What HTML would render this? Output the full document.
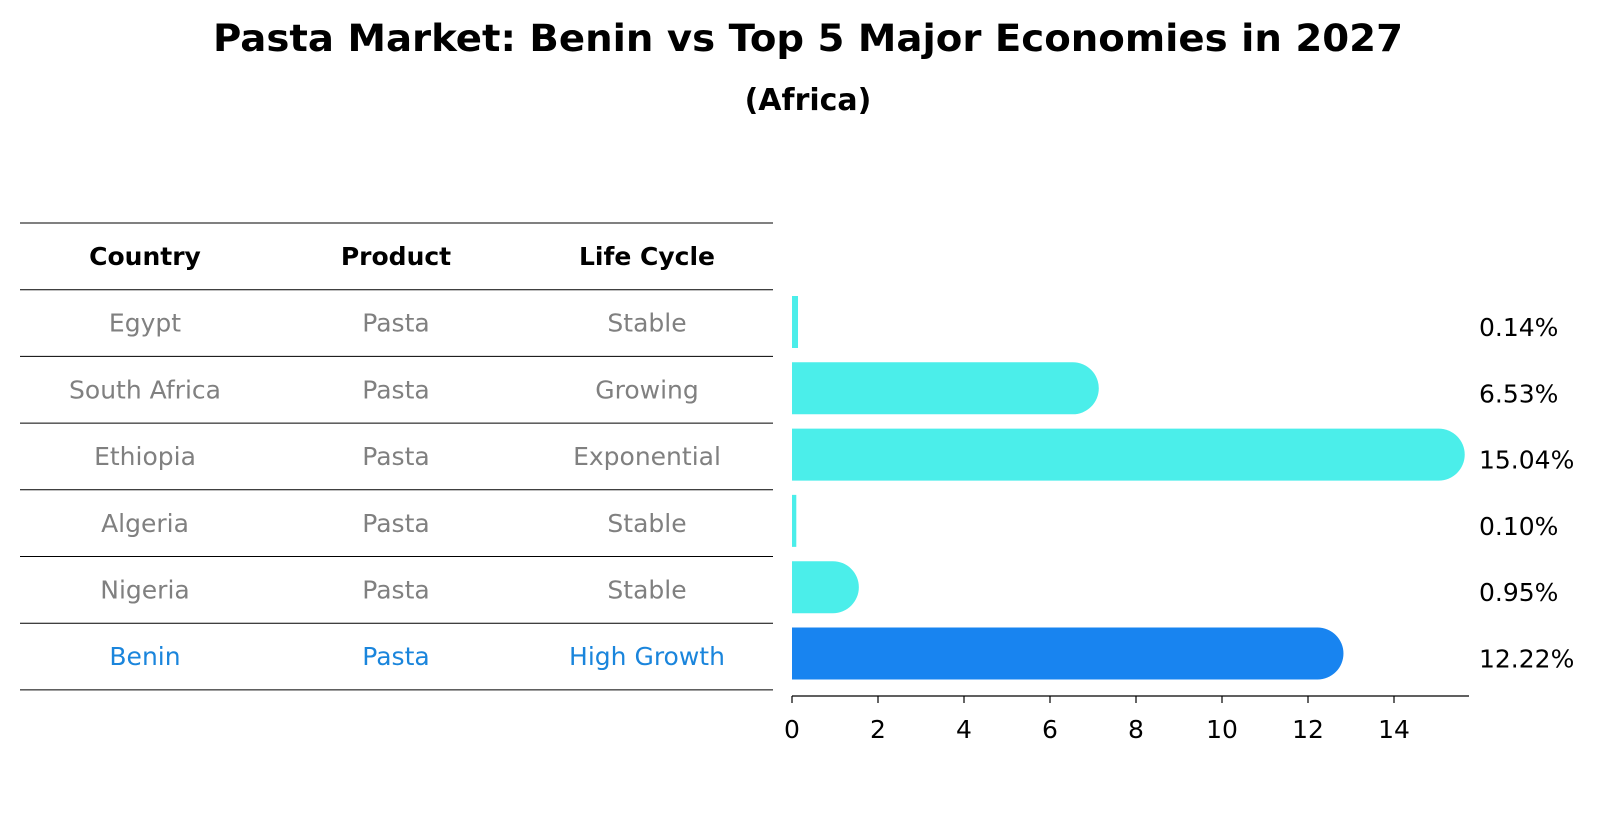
<!DOCTYPE html>
<html><head><meta charset="utf-8"><style>
body{margin:0;background:#fff;font-family:"DejaVu Sans","Liberation Sans",sans-serif}
</style></head><body>
<svg id="c" width="1604" height="823" xmlns="http://www.w3.org/2000/svg">
<text x="808" y="51" text-anchor="middle" font-size="37" font-weight="bold" textLength="1190" lengthAdjust="spacingAndGlyphs">Pasta Market: Benin vs Top 5 Major Economies in 2027</text>
<text x="808" y="110" text-anchor="middle" font-size="30" font-weight="bold">(Africa)</text>
<g id="table"></g>
<g id="bars"></g>
</svg>
<script>
const countries=["Egypt","South Africa","Ethiopia","Algeria","Nigeria","Benin"];
const products=["Pasta","Pasta","Pasta","Pasta","Pasta","Pasta"];
const lifecycle=["Stable","Growing","Exponential","Stable","Stable","High Growth"];
const values=[0.14,6.53,15.04,0.10,0.95,12.22];
const ticks=[0,2,4,6,8,10,12,14];
const NS="http://www.w3.org/2000/svg";
const tg=document.getElementById('table'), bg=document.getElementById('bars');
function mk(tag,attrs,parent,txt){const e=document.createElementNS(NS,tag);for(const k in attrs)e.setAttribute(k,attrs[k]);if(txt!=null)e.textContent=txt;parent.appendChild(e);return e;}
const x0=792, ux=43.0;
const xs=v=>x0+v*ux;
const rowY=i=>322+i*66.3;
const colX=[145,396,647];
const FS=25;
for(let i=0;i<=7;i++){const y=223+i*66.7;const l=mk('line',{x1:20,x2:773,y1:y,y2:y,stroke:'#000','stroke-width':1},tg);

}
const heads=["Country","Product","Life Cycle"];
heads.forEach((h,j)=>{const t=mk('text',{x:colX[j],y:265,'text-anchor':'middle','font-size':FS,'font-weight':'bold'},tg,h);

});
countries.forEach((c,i)=>{const y=223+66.7*(i+1)+33+9;const col=i===5?'#1a85dc':'#808080';
[c,products[i],lifecycle[i]].forEach((s,j)=>{const t=mk('text',{x:colX[j],y:y,'text-anchor':'middle','font-size':FS,fill:col},tg,s);

});});
values.forEach((v,i)=>{const cy=rowY(i),h=52,top=cy-h/2,xe=xs(v);const w=xe-x0;
let d;
if(w<26){d=`M${x0},${top} L${xe},${top} L${xe},${top+h} L${x0},${top+h} Z`;}
else{d=`M${x0},${top} L${xe},${top} A26,${h/2} 0 0 1 ${xe},${top+h} L${x0},${top+h} Z`;}
const p=mk('path',{d:d,fill:i===5?'#1884f0':'#4beeea'},bg);


const t=mk('text',{x:1479,y:rowY(i)+14,'font-size':FS},bg,v.toFixed(2)+'%');

});
const ax=mk('line',{x1:x0,x2:1469,y1:696,y2:696,stroke:'#000','stroke-width':1.3},bg);


ticks.forEach(t=>{const x=xs(t);const l=mk('line',{x1:x,x2:x,y1:696,y2:703,stroke:'#000','stroke-width':1.2},bg);


const tx=mk('text',{x:x,y:738,'text-anchor':'middle','font-size':FS},bg,String(t));

});
</script>
</body></html>
